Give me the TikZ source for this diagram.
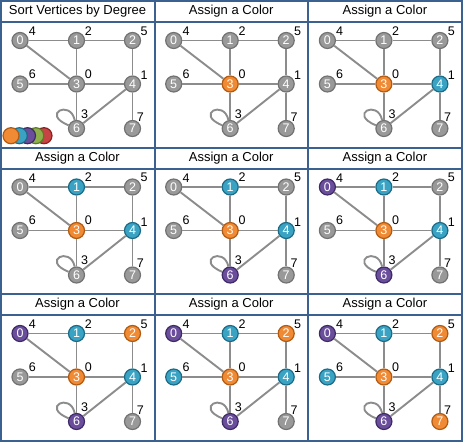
\documentclass[tikz,border=0pt]{standalone}
\usepackage{fontspec}
\setmainfont{Liberation Sans}
\definecolor{frame}{HTML}{3A6190}
\definecolor{linkgray}{HTML}{8C8C8C}
\definecolor{vgray}{HTML}{999999}
\definecolor{vgrayd}{HTML}{727272}
\definecolor{vorange}{HTML}{F08A34}
\definecolor{vorangd}{HTML}{B05A12}
\definecolor{vteal}{HTML}{3AA3C4}
\definecolor{vteald}{HTML}{1C6A86}
\definecolor{vpurple}{HTML}{6A4E9C}
\definecolor{vpurpld}{HTML}{3E2A66}
\definecolor{vgreen}{HTML}{8DB04A}
\definecolor{vgreend}{HTML}{5A7A26}
\definecolor{vred}{HTML}{C84444}
\definecolor{vredd}{HTML}{8A2222}

\begin{document}
\begin{tikzpicture}[
  x=1pt, y=-1pt,
  panel/.style={draw=frame,line width=2pt},
  title/.style={font=\fontsize{13}{15}\selectfont,inner sep=0pt},
  vtx/.style={circle,line width=1.2pt,minimum size=16pt,inner sep=0pt,
    text=white,font=\fontsize{12.5}{13}\selectfont},
  vg/.style={vtx,fill=vgray,draw=vgrayd},
  vo/.style={vtx,fill=vorange,draw=vorangd},
  vt/.style={vtx,fill=vteal,draw=vteald},
  vp/.style={vtx,fill=vpurple,draw=vpurpld},
  vn/.style={vtx,fill=vgreen,draw=vgreend},
  vr/.style={vtx,fill=vred,draw=vredd},
  link/.style={draw=linkgray,line width=1.9pt},
  deg/.style={font=\fontsize{12.5}{13}\selectfont,inner sep=0pt}
]
\useasboundingbox (0,0) rectangle (463,442);

\foreach \c/\r/\t/\a/\b/\d/\e/\f/\g/\h/\k in {
  0/0/Sort Vertices by Degree/vg/vg/vg/vg/vg/vg/vg/vg,
  1/0/Assign a Color/vg/vg/vg/vo/vg/vg/vg/vg,
  2/0/Assign a Color/vg/vg/vg/vo/vt/vg/vg/vg,
  0/1/Assign a Color/vg/vt/vg/vo/vt/vg/vg/vg,
  1/1/Assign a Color/vg/vt/vg/vo/vt/vg/vp/vg,
  2/1/Assign a Color/vp/vt/vg/vo/vt/vg/vp/vg,
  0/2/Assign a Color/vp/vt/vo/vo/vt/vg/vp/vg,
  1/2/Assign a Color/vp/vt/vo/vo/vt/vt/vp/vg,
  2/2/Assign a Color/vp/vt/vo/vo/vt/vt/vp/vo}{
  \begin{scope}[shift={(\c*153.7,\r*146.5)}, name prefix=p\c\r-]
    % frame and title bar
    \draw[panel] (1,1) rectangle (154.7,147.5);
    \draw[panel] (1,22) -- (154.7,22);
    \node[title] (head) at (77.5,11.5) {\t};
    % vertices
    \node[\a] (n0) at (20,40.5) {0};
    \node[\b] (n1) at (76.5,40.5) {1};
    \node[\d] (n2) at (132.5,40.5) {2};
    \node[\e] (n3) at (76.5,84) {3};
    \node[\f] (n4) at (132.5,84) {4};
    \node[\g] (n5) at (20,84) {5};
    \node[\h] (n6) at (76.5,128.5) {6};
    \node[\k] (n7) at (132.5,128.5) {7};
    % degree order
    \node[deg] (d0) at (32.3,31.5) {4};
    \node[deg] (d1) at (88.3,31) {2};
    \node[deg] (d2) at (144,31) {5};
    \node[deg] (d3) at (88.3,74) {0};
    \node[deg] (d4) at (144,75.5) {1};
    \node[deg] (d5) at (32.3,74) {6};
    \node[deg] (d6) at (84.7,114) {3};
    \node[deg] (d7) at (140.3,117) {7};
    % edges
    \draw[link] (n0) -- (n1);
    \draw[link] (n1) -- (n2);
    \draw[link] (n0) -- (n3);
    \draw[link] (n1) -- (n3);
    \draw[link] (n2) -- (n4);
    \draw[link] (n5) -- (n3);
    \draw[link] (n3) -- (n4);
    \draw[link] (n3) -- (n6);
    \draw[link] (n4) -- (n6);
    \draw[link] (n4) -- (n7);
    \draw[link] (n6) to[out=158,in=102,looseness=1,min distance=30pt] (n6);
  \end{scope}
}

% colour palette
\node[vr] (c5) at (44,135.7) {};
\node[vn] (c4) at (35.8,135.7) {};
\node[vp] (c3) at (27.5,135.7) {};
\node[vt] (c2) at (19.3,135.7) {};
\node[vo] (c1) at (11,135.7) {};
\end{tikzpicture}
\end{document}
